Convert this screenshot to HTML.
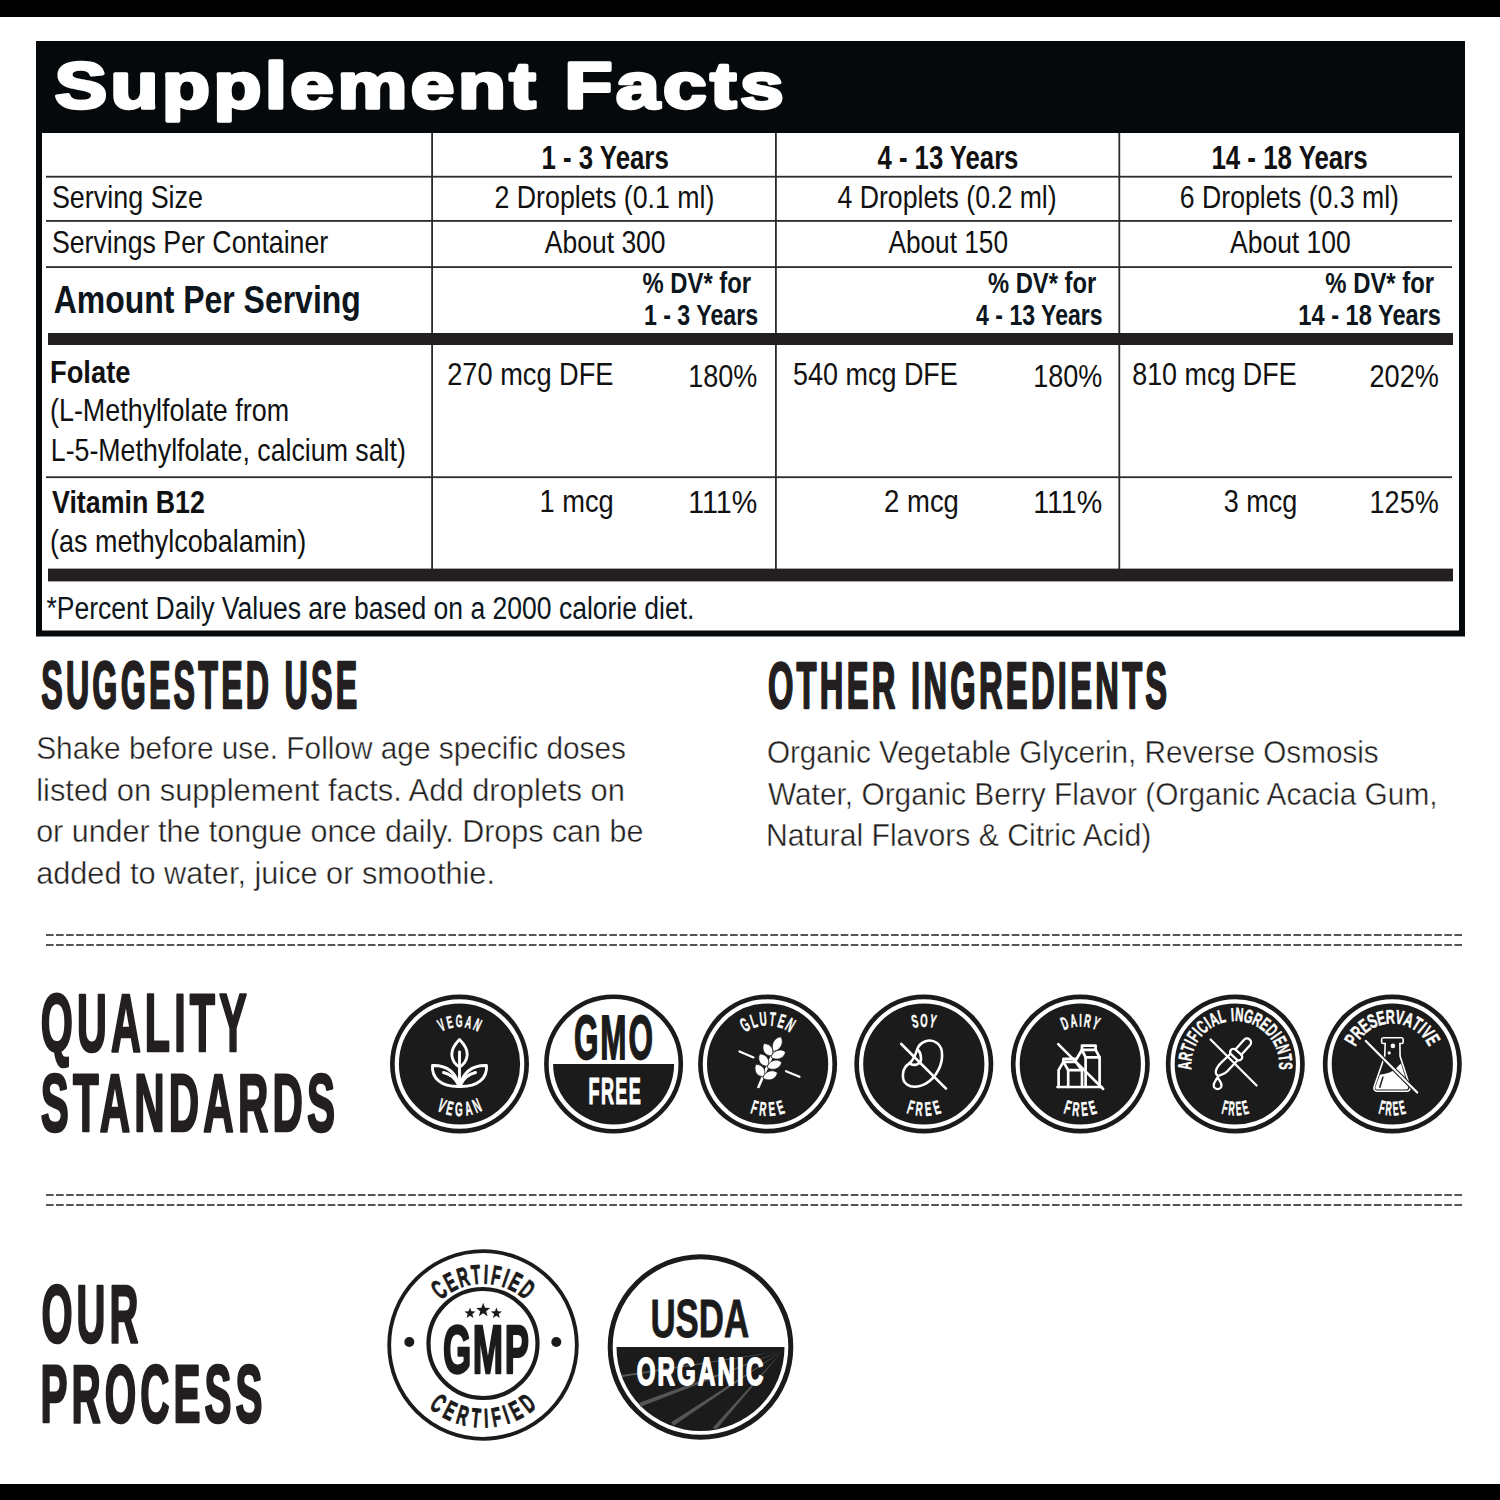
<!DOCTYPE html>
<html><head><meta charset="utf-8"><title>Supplement Facts</title>
<style>html,body{margin:0;padding:0;background:#fff;width:1500px;height:1500px;overflow:hidden}
svg{display:block;font-family:"Liberation Sans",sans-serif}</style></head>
<body><svg width="1500" height="1500" viewBox="0 0 1500 1500">
<rect x="0" y="0" width="1500" height="17" fill="#000"/>
<rect x="0" y="1484" width="1500" height="16" fill="#000"/>
<rect x="36" y="41" width="1429" height="595.5" fill="#05090b"/>
<rect x="42" y="133" width="1417" height="497.5" fill="#fff"/>
<rect x="46" y="175.80" width="1406" height="1.8" fill="#2b2b2b"/>
<rect x="46" y="220.00" width="1406" height="1.8" fill="#2b2b2b"/>
<rect x="46" y="266.20" width="1406" height="1.8" fill="#2b2b2b"/>
<rect x="46" y="476.30" width="1406" height="1.8" fill="#2b2b2b"/>
<rect x="431.20" y="133" width="1.8" height="436" fill="#2b2b2b"/>
<rect x="775.00" y="133" width="1.8" height="436" fill="#2b2b2b"/>
<rect x="1118.40" y="133" width="1.8" height="436" fill="#2b2b2b"/>
<rect x="48" y="333" width="1405" height="12" fill="#231f20"/>
<rect x="48" y="568.6" width="1405" height="12.8" fill="#231f20"/>
<line x1="46" y1="935" x2="1462" y2="935" stroke="#555" stroke-width="2" stroke-dasharray="7.6 2.46"/>
<line x1="46" y1="945" x2="1462" y2="945" stroke="#555" stroke-width="2" stroke-dasharray="7.6 2.46"/>
<line x1="46" y1="1195" x2="1462" y2="1195" stroke="#555" stroke-width="2" stroke-dasharray="7.6 2.46"/>
<line x1="46" y1="1205" x2="1462" y2="1205" stroke="#555" stroke-width="2" stroke-dasharray="7.6 2.46"/>
<text x="54.70" y="107.50" font-size="65.12" font-weight="bold" fill="#fff" stroke="#fff" stroke-width="3.4" stroke-linejoin="round" letter-spacing="2.930" textLength="732.44" lengthAdjust="spacingAndGlyphs">Supplement Facts</text>
<text x="541.50" y="169.00" font-size="32.85" font-weight="bold" fill="#111" textLength="127.28" lengthAdjust="spacingAndGlyphs">1 - 3 Years</text>
<text x="877.50" y="169.00" font-size="32.85" font-weight="bold" fill="#111" textLength="140.91" lengthAdjust="spacingAndGlyphs">4 - 13 Years</text>
<text x="1211.40" y="169.00" font-size="32.85" font-weight="bold" fill="#111" textLength="156.32" lengthAdjust="spacingAndGlyphs">14 - 18 Years</text>
<text x="51.90" y="208.00" font-size="31.11" font-weight="normal" fill="#111" textLength="151.14" lengthAdjust="spacingAndGlyphs">Serving Size</text>
<text x="494.50" y="208.00" font-size="31.11" font-weight="normal" fill="#111" textLength="219.94" lengthAdjust="spacingAndGlyphs">2 Droplets (0.1 ml)</text>
<text x="837.50" y="208.00" font-size="31.11" font-weight="normal" fill="#111" textLength="219.14" lengthAdjust="spacingAndGlyphs">4 Droplets (0.2 ml)</text>
<text x="1179.80" y="208.00" font-size="31.11" font-weight="normal" fill="#111" textLength="219.14" lengthAdjust="spacingAndGlyphs">6 Droplets (0.3 ml)</text>
<text x="51.90" y="253.30" font-size="30.96" font-weight="normal" fill="#111" textLength="276.37" lengthAdjust="spacingAndGlyphs">Servings Per Container</text>
<text x="544.80" y="253.30" font-size="30.96" font-weight="normal" fill="#111" textLength="120.79" lengthAdjust="spacingAndGlyphs">About 300</text>
<text x="888.40" y="253.30" font-size="30.96" font-weight="normal" fill="#111" textLength="119.60" lengthAdjust="spacingAndGlyphs">About 150</text>
<text x="1230.00" y="253.30" font-size="30.96" font-weight="normal" fill="#111" textLength="120.79" lengthAdjust="spacingAndGlyphs">About 100</text>
<text x="53.70" y="312.70" font-size="38.81" font-weight="bold" fill="#0c161c" textLength="307.11" lengthAdjust="spacingAndGlyphs">Amount Per Serving</text>
<text x="642.50" y="292.80" font-size="29.80" font-weight="bold" fill="#0c161c" textLength="108.53" lengthAdjust="spacingAndGlyphs">% DV* for</text>
<text x="643.90" y="324.70" font-size="30.09" font-weight="bold" fill="#0c161c" textLength="114.24" lengthAdjust="spacingAndGlyphs">1 - 3 Years</text>
<text x="988.00" y="292.80" font-size="29.80" font-weight="bold" fill="#0c161c" textLength="108.13" lengthAdjust="spacingAndGlyphs">% DV* for</text>
<text x="976.10" y="324.70" font-size="30.09" font-weight="bold" fill="#0c161c" textLength="126.51" lengthAdjust="spacingAndGlyphs">4 - 13 Years</text>
<text x="1325.30" y="292.80" font-size="29.80" font-weight="bold" fill="#0c161c" textLength="108.73" lengthAdjust="spacingAndGlyphs">% DV* for</text>
<text x="1298.30" y="324.70" font-size="30.09" font-weight="bold" fill="#0c161c" textLength="142.71" lengthAdjust="spacingAndGlyphs">14 - 18 Years</text>
<text x="50.00" y="382.70" font-size="31.11" font-weight="bold" fill="#111" textLength="80.42" lengthAdjust="spacingAndGlyphs">Folate</text>
<text x="50.00" y="421.30" font-size="30.96" font-weight="normal" fill="#111" textLength="239.08" lengthAdjust="spacingAndGlyphs">(L-Methylfolate from</text>
<text x="50.80" y="460.50" font-size="30.96" font-weight="normal" fill="#111" textLength="355.06" lengthAdjust="spacingAndGlyphs">L-5-Methylfolate, calcium salt)</text>
<text x="52.00" y="512.80" font-size="30.96" font-weight="bold" fill="#111" textLength="152.89" lengthAdjust="spacingAndGlyphs">Vitamin B12</text>
<text x="50.00" y="552.00" font-size="31.11" font-weight="normal" fill="#111" textLength="256.13" lengthAdjust="spacingAndGlyphs">(as methylcobalamin)</text>
<text x="447.20" y="385.00" font-size="32.27" font-weight="normal" fill="#111" textLength="166.31" lengthAdjust="spacingAndGlyphs">270 mcg DFE</text>
<text x="688.20" y="386.60" font-size="31.11" font-weight="normal" fill="#111" textLength="69.08" lengthAdjust="spacingAndGlyphs">180%</text>
<text x="793.10" y="385.00" font-size="32.27" font-weight="normal" fill="#111" textLength="164.70" lengthAdjust="spacingAndGlyphs">540 mcg DFE</text>
<text x="1033.20" y="386.60" font-size="31.11" font-weight="normal" fill="#111" textLength="69.08" lengthAdjust="spacingAndGlyphs">180%</text>
<text x="1132.20" y="385.00" font-size="32.27" font-weight="normal" fill="#111" textLength="164.50" lengthAdjust="spacingAndGlyphs">810 mcg DFE</text>
<text x="1369.50" y="386.60" font-size="31.11" font-weight="normal" fill="#111" textLength="69.38" lengthAdjust="spacingAndGlyphs">202%</text>
<text x="539.50" y="512.40" font-size="31.40" font-weight="normal" fill="#111" textLength="74.27" lengthAdjust="spacingAndGlyphs">1 mcg</text>
<text x="688.20" y="512.60" font-size="31.11" font-weight="normal" fill="#111" textLength="69.12" lengthAdjust="spacingAndGlyphs">111%</text>
<text x="884.10" y="512.40" font-size="31.40" font-weight="normal" fill="#111" textLength="74.80" lengthAdjust="spacingAndGlyphs">2 mcg</text>
<text x="1033.20" y="512.60" font-size="31.11" font-weight="normal" fill="#111" textLength="69.12" lengthAdjust="spacingAndGlyphs">111%</text>
<text x="1223.70" y="512.40" font-size="31.40" font-weight="normal" fill="#111" textLength="73.55" lengthAdjust="spacingAndGlyphs">3 mcg</text>
<text x="1369.60" y="512.60" font-size="31.11" font-weight="normal" fill="#111" textLength="69.08" lengthAdjust="spacingAndGlyphs">125%</text>
<text x="46.50" y="618.50" font-size="30.81" font-weight="normal" fill="#0c161c" textLength="648.00" lengthAdjust="spacingAndGlyphs">*Percent Daily Values are based on a 2000 calorie diet.</text>
<text x="41.20" y="707.65" font-size="65.84" font-weight="bold" fill="#231f20" stroke="#231f20" stroke-width="2.3" stroke-linejoin="round" letter-spacing="6.584" textLength="319.19" lengthAdjust="spacingAndGlyphs">SUGGESTED USE</text>
<text x="36.20" y="759.40" font-size="31.11" font-weight="normal" fill="#231f20" stroke="#fff" stroke-width="0.4" stroke-linejoin="round" textLength="589.75" lengthAdjust="spacingAndGlyphs">Shake before use. Follow age specific doses</text>
<text x="36.20" y="801.00" font-size="31.11" font-weight="normal" fill="#231f20" stroke="#fff" stroke-width="0.4" stroke-linejoin="round" textLength="588.71" lengthAdjust="spacingAndGlyphs">listed on supplement facts. Add droplets on</text>
<text x="36.20" y="842.20" font-size="31.11" font-weight="normal" fill="#231f20" stroke="#fff" stroke-width="0.4" stroke-linejoin="round" textLength="607.14" lengthAdjust="spacingAndGlyphs">or under the tongue once daily. Drops can be</text>
<text x="36.20" y="883.80" font-size="31.11" font-weight="normal" fill="#231f20" stroke="#fff" stroke-width="0.4" stroke-linejoin="round" textLength="458.72" lengthAdjust="spacingAndGlyphs">added to water, juice or smoothie.</text>
<text x="767.90" y="708.35" font-size="65.26" font-weight="bold" fill="#231f20" stroke="#231f20" stroke-width="2.3" stroke-linejoin="round" letter-spacing="6.526" textLength="402.56" lengthAdjust="spacingAndGlyphs">OTHER INGREDIENTS</text>
<text x="766.90" y="763.40" font-size="31.11" font-weight="normal" fill="#231f20" stroke="#fff" stroke-width="0.4" stroke-linejoin="round" textLength="611.78" lengthAdjust="spacingAndGlyphs">Organic Vegetable Glycerin, Reverse Osmosis</text>
<text x="767.90" y="804.70" font-size="31.11" font-weight="normal" fill="#231f20" stroke="#fff" stroke-width="0.4" stroke-linejoin="round" textLength="669.71" lengthAdjust="spacingAndGlyphs">Water, Organic Berry Flavor (Organic Acacia Gum,</text>
<text x="765.90" y="846.20" font-size="31.11" font-weight="normal" fill="#231f20" stroke="#fff" stroke-width="0.4" stroke-linejoin="round" textLength="385.48" lengthAdjust="spacingAndGlyphs">Natural Flavors &amp; Citric Acid)</text>
<text x="40.70" y="1051.15" font-size="81.25" font-weight="bold" fill="#231f20" stroke="#231f20" stroke-width="2.7" stroke-linejoin="round" letter-spacing="8.125" textLength="210.12" lengthAdjust="spacingAndGlyphs">QUALITY</text>
<text x="40.70" y="1131.15" font-size="81.25" font-weight="bold" fill="#231f20" stroke="#231f20" stroke-width="2.7" stroke-linejoin="round" letter-spacing="8.125" textLength="298.57" lengthAdjust="spacingAndGlyphs">STANDARDS</text>
<text x="41.40" y="1342.25" font-size="81.25" font-weight="bold" fill="#231f20" stroke="#231f20" stroke-width="2.7" stroke-linejoin="round" letter-spacing="8.125" textLength="100.90" lengthAdjust="spacingAndGlyphs">OUR</text>
<text x="40.40" y="1422.25" font-size="81.25" font-weight="bold" fill="#231f20" stroke="#231f20" stroke-width="2.7" stroke-linejoin="round" letter-spacing="8.125" textLength="226.13" lengthAdjust="spacingAndGlyphs">PROCESS</text>
<circle cx="459.5" cy="1064" r="69.5" fill="#1c1b1b"/>
<circle cx="459.5" cy="1064" r="62.7" fill="none" stroke="#fff" stroke-width="4.2"/>
<g fill="#fff" font-weight="bold"><text transform="translate(443.81,1030.49) rotate(-25.09) scale(0.5,1)" font-size="17.44" text-anchor="middle" stroke="#fff" stroke-width="0.45" stroke-linejoin="round">V</text><text transform="translate(451.09,1027.97) rotate(-13.14) scale(0.5,1)" font-size="17.44" text-anchor="middle" stroke="#fff" stroke-width="0.45" stroke-linejoin="round">E</text><text transform="translate(459.12,1027.00) rotate(-0.59) scale(0.5,1)" font-size="17.44" text-anchor="middle" stroke="#fff" stroke-width="0.45" stroke-linejoin="round">G</text><text transform="translate(467.35,1027.84) rotate(12.25) scale(0.5,1)" font-size="17.44" text-anchor="middle" stroke="#fff" stroke-width="0.45" stroke-linejoin="round">A</text><text transform="translate(475.02,1030.41) rotate(24.80) scale(0.5,1)" font-size="17.44" text-anchor="middle" stroke="#fff" stroke-width="0.45" stroke-linejoin="round">N</text></g>
<g fill="#fff" font-weight="bold"><text transform="translate(439.14,1111.85) rotate(23.06) scale(0.5,1)" font-size="19.62" text-anchor="middle" stroke="#fff" stroke-width="0.45" stroke-linejoin="round">V</text><text transform="translate(448.55,1114.83) rotate(12.16) scale(0.5,1)" font-size="19.62" text-anchor="middle" stroke="#fff" stroke-width="0.45" stroke-linejoin="round">E</text><text transform="translate(458.93,1116.00) rotate(0.63) scale(0.5,1)" font-size="19.62" text-anchor="middle" stroke="#fff" stroke-width="0.45" stroke-linejoin="round">G</text><text transform="translate(469.61,1115.01) rotate(-11.21) scale(0.5,1)" font-size="19.62" text-anchor="middle" stroke="#fff" stroke-width="0.45" stroke-linejoin="round">A</text><text transform="translate(479.60,1111.96) rotate(-22.74) scale(0.5,1)" font-size="19.62" text-anchor="middle" stroke="#fff" stroke-width="0.45" stroke-linejoin="round">N</text></g>
<g fill="none" stroke="#fff" stroke-linecap="round" stroke-linejoin="round" stroke-width="2.9"><path d="M459.5,1039.5 C453,1046 451.5,1051 451.8,1055 C452.3,1061 456,1065 459.5,1067 C463,1065 466.7,1061 467.2,1055 C467.5,1051 466,1046 459.5,1039.5 Z"/><path d="M459.5,1052 L459.5,1086"/><path d="M459.5,1086.5 C456,1073 448,1065 432.5,1065.5 C431.5,1078 441,1087 459.5,1086.5 Z"/><path d="M459.5,1086.5 C463,1073 471,1065 486.5,1065.5 C487.5,1078 478,1087 459.5,1086.5 Z"/><path d="M443.5,1072.5 C450,1074 455,1078 458,1084"/><path d="M475.5,1072.5 C469,1074 464,1078 461,1084"/></g>
<circle cx="613.6" cy="1064" r="67.2" fill="#fff" stroke="#1c1b1b" stroke-width="4.6"/>
<path d="M553.1,1064 A60.5,60.5 0 0 0 674.1,1064 Z" fill="#1c1b1b"/>
<text x="0" y="0" transform="translate(573.90,1059.10) scale(0.4956,1)" font-size="63.52" font-weight="bold" fill="#1c1b1b" stroke="#1c1b1b" stroke-width="1.8" stroke-linejoin="round" letter-spacing="4.00">GMO</text>
<text x="0" y="0" transform="translate(588.40,1104.40) scale(0.4819,1)" font-size="37.50" font-weight="bold" fill="#fff" stroke="#fff" stroke-width="1.2" stroke-linejoin="round" letter-spacing="3.00">FREE</text>
<circle cx="767.6" cy="1064" r="69.5" fill="#1c1b1b"/>
<circle cx="767.6" cy="1064" r="62.7" fill="none" stroke="#fff" stroke-width="4.2"/>
<g fill="#fff" font-weight="bold"><text transform="translate(748.28,1030.70) rotate(-30.12) scale(0.5,1)" font-size="19.62" text-anchor="middle" stroke="#fff" stroke-width="0.45" stroke-linejoin="round">G</text><text transform="translate(755.86,1027.33) rotate(-17.75) scale(0.5,1)" font-size="19.62" text-anchor="middle" stroke="#fff" stroke-width="0.45" stroke-linejoin="round">L</text><text transform="translate(763.77,1025.69) rotate(-5.71) scale(0.5,1)" font-size="19.62" text-anchor="middle" stroke="#fff" stroke-width="0.45" stroke-linejoin="round">U</text><text transform="translate(771.85,1025.74) rotate(6.34) scale(0.5,1)" font-size="19.62" text-anchor="middle" stroke="#fff" stroke-width="0.45" stroke-linejoin="round">T</text><text transform="translate(779.54,1027.40) rotate(18.07) scale(0.5,1)" font-size="19.62" text-anchor="middle" stroke="#fff" stroke-width="0.45" stroke-linejoin="round">E</text><text transform="translate(787.10,1030.81) rotate(30.44) scale(0.5,1)" font-size="19.62" text-anchor="middle" stroke="#fff" stroke-width="0.45" stroke-linejoin="round">N</text></g>
<g fill="#fff" font-weight="bold"><text transform="translate(752.60,1113.79) rotate(16.76) scale(0.5,1)" font-size="19.62" text-anchor="middle" stroke="#fff" stroke-width="0.45" stroke-linejoin="round">F</text><text transform="translate(762.34,1115.73) rotate(5.80) scale(0.5,1)" font-size="19.62" text-anchor="middle" stroke="#fff" stroke-width="0.45" stroke-linejoin="round">R</text><text transform="translate(772.56,1115.76) rotate(-5.48) scale(0.5,1)" font-size="19.62" text-anchor="middle" stroke="#fff" stroke-width="0.45" stroke-linejoin="round">E</text><text transform="translate(782.32,1113.87) rotate(-16.44) scale(0.5,1)" font-size="19.62" text-anchor="middle" stroke="#fff" stroke-width="0.45" stroke-linejoin="round">E</text></g>
<g stroke="#fff" stroke-width="2.2" stroke-linecap="round"><path d="M739.5,1051.5 L753.5,1057.4"/><path d="M786,1071.2 L799.5,1076.8"/></g>
<path d="M758.5,1087 L774.5,1050" stroke="#fff" stroke-width="2.6" stroke-linecap="round"/>
<path d="M-8.25,0 C-4.125,-5.704 4.5375000000000005,-6.072 8.25,0 C4.5375000000000005,6.072 -4.125,5.704 -8.25,0 Z" transform="translate(777.2,1044.2) rotate(-63)" fill="#fff" stroke="#1c1b1b" stroke-width="0.7"/>
<path d="M-7.25,0 C-3.625,-5.704 3.9875000000000003,-6.072 7.25,0 C3.9875000000000003,6.072 -3.625,5.704 -7.25,0 Z" transform="translate(767.8,1049.6) rotate(57)" fill="#fff" stroke="#1c1b1b" stroke-width="0.7"/>
<path d="M-7.75,0 C-3.875,-5.58 4.2625,-5.94 7.75,0 C4.2625,5.94 -3.875,5.58 -7.75,0 Z" transform="translate(778.3,1054.6) rotate(-20)" fill="#fff" stroke="#1c1b1b" stroke-width="0.7"/>
<path d="M-7.25,0 C-3.625,-5.704 3.9875000000000003,-6.072 7.25,0 C3.9875000000000003,6.072 -3.625,5.704 -7.25,0 Z" transform="translate(763.6,1060.0) rotate(57)" fill="#fff" stroke="#1c1b1b" stroke-width="0.7"/>
<path d="M-7.75,0 C-3.875,-5.58 4.2625,-5.94 7.75,0 C4.2625,5.94 -3.875,5.58 -7.75,0 Z" transform="translate(774.4,1064.8) rotate(-20)" fill="#fff" stroke="#1c1b1b" stroke-width="0.7"/>
<path d="M-7.25,0 C-3.625,-5.704 3.9875000000000003,-6.072 7.25,0 C3.9875000000000003,6.072 -3.625,5.704 -7.25,0 Z" transform="translate(759.8,1070.4) rotate(57)" fill="#fff" stroke="#1c1b1b" stroke-width="0.7"/>
<path d="M-7.75,0 C-3.875,-5.58 4.2625,-5.94 7.75,0 C4.2625,5.94 -3.875,5.58 -7.75,0 Z" transform="translate(770.2,1075.4) rotate(-20)" fill="#fff" stroke="#1c1b1b" stroke-width="0.7"/>
<circle cx="923.8" cy="1064" r="69.5" fill="#1c1b1b"/>
<circle cx="923.8" cy="1064" r="62.7" fill="none" stroke="#fff" stroke-width="4.2"/>
<g fill="#fff" font-weight="bold"><text transform="translate(916.09,1027.30) rotate(-11.87) scale(0.52,1)" font-size="18.17" text-anchor="middle" stroke="#fff" stroke-width="0.45" stroke-linejoin="round">S</text><text transform="translate(923.80,1026.50) rotate(0.00) scale(0.52,1)" font-size="18.17" text-anchor="middle" stroke="#fff" stroke-width="0.45" stroke-linejoin="round">O</text><text transform="translate(931.51,1027.30) rotate(11.87) scale(0.52,1)" font-size="18.17" text-anchor="middle" stroke="#fff" stroke-width="0.45" stroke-linejoin="round">Y</text></g>
<g fill="#fff" font-weight="bold"><text transform="translate(908.80,1113.79) rotate(16.76) scale(0.5,1)" font-size="19.62" text-anchor="middle" stroke="#fff" stroke-width="0.45" stroke-linejoin="round">F</text><text transform="translate(918.54,1115.73) rotate(5.80) scale(0.5,1)" font-size="19.62" text-anchor="middle" stroke="#fff" stroke-width="0.45" stroke-linejoin="round">R</text><text transform="translate(928.76,1115.76) rotate(-5.48) scale(0.5,1)" font-size="19.62" text-anchor="middle" stroke="#fff" stroke-width="0.45" stroke-linejoin="round">E</text><text transform="translate(938.52,1113.87) rotate(-16.44) scale(0.5,1)" font-size="19.62" text-anchor="middle" stroke="#fff" stroke-width="0.45" stroke-linejoin="round">E</text></g>
<g fill="none" stroke="#fff" stroke-linecap="round" stroke-linejoin="round" stroke-width="2.6"><path d="M909.6,1063.5 C902,1067 900.5,1080 907,1084.5 C914,1089.5 928,1086 936,1074 C944,1062 944,1048 937,1043 C930,1038 920,1041 917,1050 C915.5,1055 914,1059 909.6,1063.5 Z"/><path d="M909.6,1063 C913,1066.5 921.5,1065 921,1058 C920.8,1054 920,1052 918.5,1050.5"/><path d="M901.3,1044 L946,1088.6"/></g>
<circle cx="1080.3" cy="1064" r="69.5" fill="#1c1b1b"/>
<circle cx="1080.3" cy="1064" r="62.7" fill="none" stroke="#fff" stroke-width="4.2"/>
<g fill="#fff" font-weight="bold"><text transform="translate(1066.93,1028.96) rotate(-20.88) scale(0.5,1)" font-size="18.17" text-anchor="middle" stroke="#fff" stroke-width="0.45" stroke-linejoin="round">D</text><text transform="translate(1074.39,1026.97) rotate(-9.07) scale(0.5,1)" font-size="18.17" text-anchor="middle" stroke="#fff" stroke-width="0.45" stroke-linejoin="round">A</text><text transform="translate(1080.50,1026.50) rotate(0.30) scale(0.5,1)" font-size="18.17" text-anchor="middle" stroke="#fff" stroke-width="0.45" stroke-linejoin="round">I</text><text transform="translate(1086.60,1027.03) rotate(9.68) scale(0.5,1)" font-size="18.17" text-anchor="middle" stroke="#fff" stroke-width="0.45" stroke-linejoin="round">R</text><text transform="translate(1093.85,1029.03) rotate(21.18) scale(0.5,1)" font-size="18.17" text-anchor="middle" stroke="#fff" stroke-width="0.45" stroke-linejoin="round">Y</text></g>
<g fill="#fff" font-weight="bold"><text transform="translate(1065.81,1113.94) rotate(16.18) scale(0.5,1)" font-size="19.62" text-anchor="middle" stroke="#fff" stroke-width="0.45" stroke-linejoin="round">F</text><text transform="translate(1075.22,1115.75) rotate(5.61) scale(0.5,1)" font-size="19.62" text-anchor="middle" stroke="#fff" stroke-width="0.45" stroke-linejoin="round">R</text><text transform="translate(1085.09,1115.78) rotate(-5.28) scale(0.5,1)" font-size="19.62" text-anchor="middle" stroke="#fff" stroke-width="0.45" stroke-linejoin="round">E</text><text transform="translate(1094.51,1114.02) rotate(-15.85) scale(0.5,1)" font-size="19.62" text-anchor="middle" stroke="#fff" stroke-width="0.45" stroke-linejoin="round">E</text></g>
<g fill="none" stroke="#fff" stroke-linecap="round" stroke-linejoin="round" stroke-width="2.7" stroke-linecap="butt" stroke-linejoin="miter"><path d="M1058.6,1087 L1058.6,1070.2 L1063.4,1061.8 L1075.6,1061.8 L1082,1070.2 L1082,1087"/><path d="M1063.4,1061.8 L1063.4,1058.8 L1075.6,1058.8 L1075.6,1061.8"/><path d="M1063.4,1061.8 L1068.2,1070.2 L1082,1070.2"/><path d="M1068.2,1070.2 L1068.2,1087"/><path d="M1076.4,1059.2 L1082,1049.8 L1095.6,1049.8 L1099.6,1057.4 L1099.6,1087"/><path d="M1082,1049.8 L1082,1045.6 L1095.6,1045.6 L1095.6,1049.8"/><path d="M1082,1049.8 L1085.6,1057.4 L1099.6,1057.4"/><path d="M1085.6,1057.4 L1085.6,1087"/><path d="M1057.5,1087 L1101.6,1087"/></g>
<path d="M1058.2,1044.2 L1103.2,1089" stroke="#fff" stroke-width="2.5" stroke-linecap="round"/>
<circle cx="1235.3" cy="1064" r="69.5" fill="#1c1b1b"/>
<circle cx="1235.3" cy="1064" r="62.7" fill="none" stroke="#fff" stroke-width="4.2"/>
<g fill="#fff" font-weight="bold"><text transform="translate(1191.30,1065.56) rotate(-90.73) scale(0.6,1)" font-size="18.90" text-anchor="middle" stroke="#fff" stroke-width="0.45" stroke-linejoin="round">A</text><text transform="translate(1191.93,1057.56) rotate(-80.27) scale(0.6,1)" font-size="18.90" text-anchor="middle" stroke="#fff" stroke-width="0.45" stroke-linejoin="round">R</text><text transform="translate(1193.83,1050.29) rotate(-70.47) scale(0.6,1)" font-size="18.90" text-anchor="middle" stroke="#fff" stroke-width="0.45" stroke-linejoin="round">T</text><text transform="translate(1195.99,1045.23) rotate(-63.31) scale(0.6,1)" font-size="18.90" text-anchor="middle" stroke="#fff" stroke-width="0.45" stroke-linejoin="round">I</text><text transform="translate(1198.76,1040.48) rotate(-56.14) scale(0.6,1)" font-size="18.90" text-anchor="middle" stroke="#fff" stroke-width="0.45" stroke-linejoin="round">F</text><text transform="translate(1202.11,1036.12) rotate(-48.97) scale(0.6,1)" font-size="18.90" text-anchor="middle" stroke="#fff" stroke-width="0.45" stroke-linejoin="round">I</text><text transform="translate(1206.35,1031.87) rotate(-41.14) scale(0.6,1)" font-size="18.90" text-anchor="middle" stroke="#fff" stroke-width="0.45" stroke-linejoin="round">C</text><text transform="translate(1211.13,1028.23) rotate(-33.32) scale(0.6,1)" font-size="18.90" text-anchor="middle" stroke="#fff" stroke-width="0.45" stroke-linejoin="round">I</text><text transform="translate(1216.36,1025.28) rotate(-25.49) scale(0.6,1)" font-size="18.90" text-anchor="middle" stroke="#fff" stroke-width="0.45" stroke-linejoin="round">A</text><text transform="translate(1223.40,1022.64) rotate(-15.69) scale(0.6,1)" font-size="18.90" text-anchor="middle" stroke="#fff" stroke-width="0.45" stroke-linejoin="round">L</text><text transform="translate(1232.75,1021.07) rotate(-3.33) scale(0.6,1)" font-size="18.90" text-anchor="middle" stroke="#fff" stroke-width="0.45" stroke-linejoin="round">I</text><text transform="translate(1238.75,1021.14) rotate(4.50) scale(0.6,1)" font-size="18.90" text-anchor="middle" stroke="#fff" stroke-width="0.45" stroke-linejoin="round">N</text><text transform="translate(1246.90,1022.56) rotate(15.28) scale(0.6,1)" font-size="18.90" text-anchor="middle" stroke="#fff" stroke-width="0.45" stroke-linejoin="round">G</text><text transform="translate(1254.64,1025.48) rotate(26.07) scale(0.6,1)" font-size="18.90" text-anchor="middle" stroke="#fff" stroke-width="0.45" stroke-linejoin="round">R</text><text transform="translate(1261.29,1029.49) rotate(36.20) scale(0.6,1)" font-size="18.90" text-anchor="middle" stroke="#fff" stroke-width="0.45" stroke-linejoin="round">E</text><text transform="translate(1267.13,1034.62) rotate(46.33) scale(0.6,1)" font-size="18.90" text-anchor="middle" stroke="#fff" stroke-width="0.45" stroke-linejoin="round">D</text><text transform="translate(1270.97,1039.23) rotate(54.16) scale(0.6,1)" font-size="18.90" text-anchor="middle" stroke="#fff" stroke-width="0.45" stroke-linejoin="round">I</text><text transform="translate(1274.02,1044.11) rotate(61.66) scale(0.6,1)" font-size="18.90" text-anchor="middle" stroke="#fff" stroke-width="0.45" stroke-linejoin="round">E</text><text transform="translate(1277.10,1051.25) rotate(71.79) scale(0.6,1)" font-size="18.90" text-anchor="middle" stroke="#fff" stroke-width="0.45" stroke-linejoin="round">N</text><text transform="translate(1278.83,1058.56) rotate(81.58) scale(0.6,1)" font-size="18.90" text-anchor="middle" stroke="#fff" stroke-width="0.45" stroke-linejoin="round">T</text><text transform="translate(1279.29,1065.81) rotate(91.05) scale(0.6,1)" font-size="18.90" text-anchor="middle" stroke="#fff" stroke-width="0.45" stroke-linejoin="round">S</text></g>
<g fill="#fff" font-weight="bold"><text transform="translate(1223.50,1114.13) rotate(13.25) scale(0.44,1)" font-size="19.62" text-anchor="middle" stroke="#fff" stroke-width="0.45" stroke-linejoin="round">F</text><text transform="translate(1231.16,1115.33) rotate(4.61) scale(0.44,1)" font-size="19.62" text-anchor="middle" stroke="#fff" stroke-width="0.45" stroke-linejoin="round">R</text><text transform="translate(1239.18,1115.35) rotate(-4.32) scale(0.44,1)" font-size="19.62" text-anchor="middle" stroke="#fff" stroke-width="0.45" stroke-linejoin="round">E</text><text transform="translate(1246.85,1114.19) rotate(-12.96) scale(0.44,1)" font-size="19.62" text-anchor="middle" stroke="#fff" stroke-width="0.45" stroke-linejoin="round">E</text></g>
<g transform="translate(1217.6,1075.2) rotate(-48)" fill="none" stroke="#fff" stroke-linecap="round" stroke-linejoin="round" stroke-width="2.3"><path d="M31,-4 L44,-4 A4,4 0 0 1 44,4 L31,4"/><rect x="24.5" y="-7" width="6.5" height="14" rx="3.2"/><path d="M24.5,-4.8 C18,-4.8 12,-6.2 7,-5.6 C3.5,-5.2 1,-4 0,-2 C-0.6,0 0,1.2 1.2,1.7 C3.5,2.8 6,4.6 9.5,4.6 C14,4.6 19,4.8 24.5,4.8"/></g>
<path d="M1217.6,1077.2 C1216.2,1080 1213.7,1082.2 1213.7,1085.3 A3.9,3.9 0 0 0 1221.5,1085.3 C1221.5,1082.2 1219,1080 1217.6,1077.2 Z" fill="none" stroke="#fff" stroke-linecap="round" stroke-linejoin="round" stroke-width="2.3"/>
<path d="M1210.6,1039.5 L1256.6,1085.5" stroke="#fff" stroke-width="2.2" stroke-linecap="round"/>
<circle cx="1392.3" cy="1064" r="69.5" fill="#1c1b1b"/>
<circle cx="1392.3" cy="1064" r="62.7" fill="none" stroke="#fff" stroke-width="4.2"/>
<g fill="#fff" font-weight="bold"><text transform="translate(1357.47,1043.34) rotate(-59.33) scale(0.64,1)" font-size="19.62" text-anchor="middle" stroke="#fff" stroke-width="0.45" stroke-linejoin="round">P</text><text transform="translate(1362.30,1036.79) rotate(-47.80) scale(0.64,1)" font-size="19.62" text-anchor="middle" stroke="#fff" stroke-width="0.45" stroke-linejoin="round">R</text><text transform="translate(1368.34,1031.35) rotate(-36.27) scale(0.64,1)" font-size="19.62" text-anchor="middle" stroke="#fff" stroke-width="0.45" stroke-linejoin="round">E</text><text transform="translate(1375.10,1027.33) rotate(-25.12) scale(0.64,1)" font-size="19.62" text-anchor="middle" stroke="#fff" stroke-width="0.45" stroke-linejoin="round">S</text><text transform="translate(1382.51,1024.70) rotate(-13.98) scale(0.64,1)" font-size="19.62" text-anchor="middle" stroke="#fff" stroke-width="0.45" stroke-linejoin="round">E</text><text transform="translate(1390.57,1023.54) rotate(-2.45) scale(0.64,1)" font-size="19.62" text-anchor="middle" stroke="#fff" stroke-width="0.45" stroke-linejoin="round">R</text><text transform="translate(1398.69,1024.01) rotate(9.08) scale(0.64,1)" font-size="19.62" text-anchor="middle" stroke="#fff" stroke-width="0.45" stroke-linejoin="round">V</text><text transform="translate(1406.55,1026.09) rotate(20.61) scale(0.64,1)" font-size="19.62" text-anchor="middle" stroke="#fff" stroke-width="0.45" stroke-linejoin="round">A</text><text transform="translate(1413.61,1029.56) rotate(31.74) scale(0.64,1)" font-size="19.62" text-anchor="middle" stroke="#fff" stroke-width="0.45" stroke-linejoin="round">T</text><text transform="translate(1418.21,1032.87) rotate(39.77) scale(0.64,1)" font-size="19.62" text-anchor="middle" stroke="#fff" stroke-width="0.45" stroke-linejoin="round">I</text><text transform="translate(1422.48,1037.00) rotate(48.18) scale(0.64,1)" font-size="19.62" text-anchor="middle" stroke="#fff" stroke-width="0.45" stroke-linejoin="round">V</text><text transform="translate(1427.13,1043.34) rotate(59.33) scale(0.64,1)" font-size="19.62" text-anchor="middle" stroke="#fff" stroke-width="0.45" stroke-linejoin="round">E</text></g>
<g fill="#fff" font-weight="bold"><text transform="translate(1380.50,1114.13) rotate(13.25) scale(0.44,1)" font-size="19.62" text-anchor="middle" stroke="#fff" stroke-width="0.45" stroke-linejoin="round">F</text><text transform="translate(1388.16,1115.33) rotate(4.61) scale(0.44,1)" font-size="19.62" text-anchor="middle" stroke="#fff" stroke-width="0.45" stroke-linejoin="round">R</text><text transform="translate(1396.18,1115.35) rotate(-4.32) scale(0.44,1)" font-size="19.62" text-anchor="middle" stroke="#fff" stroke-width="0.45" stroke-linejoin="round">E</text><text transform="translate(1403.85,1114.19) rotate(-12.96) scale(0.44,1)" font-size="19.62" text-anchor="middle" stroke="#fff" stroke-width="0.45" stroke-linejoin="round">E</text></g>
<path d="M1379.9,1074.8 C1386,1073.5 1390,1073 1394,1070 C1397,1067.5 1399,1065 1401,1063.5 L1408.2,1087 C1408.6,1088.5 1407.5,1089.5 1406,1089.5 L1377.2,1089.5 C1375.8,1089.5 1375,1088.5 1375.4,1087 Z" fill="#fff"/>
<g fill="none" stroke="#fff" stroke-linecap="round" stroke-linejoin="round" stroke-width="1.6"><path d="M1385.2,1043.5 L1383.2,1043.5 C1382,1043.5 1381.6,1042.8 1381.6,1041.8 L1381.6,1039.5 C1381.6,1038.4 1382.2,1037.8 1383.2,1037.8 L1401.6,1037.8 C1402.6,1037.8 1403.2,1038.4 1403.2,1039.5 L1403.2,1041.8 C1403.2,1042.8 1402.6,1043.5 1401.6,1043.5 L1399.9,1043.5"/><path d="M1385.2,1043.5 L1384.7,1056.2 L1374.2,1086.5 C1373.3,1089.5 1375,1091.2 1377.5,1091.2 L1406.5,1091.2 C1409,1091.2 1410.8,1089.5 1409.9,1086.5 L1400.1,1056.2 L1399.9,1043.5"/></g>
<path d="M1382.9,1077.2 L1379.8,1087.2" stroke="#1c1b1b" stroke-width="1.5" stroke-linecap="round"/>
<circle cx="1392.9" cy="1045.9" r="2.3" fill="#fff"/><circle cx="1389.2" cy="1052.9" r="1.6" fill="#fff"/>
<path d="M1365.8,1041 L1417.2,1092.5" stroke="#1c1b1b" stroke-width="4.4" stroke-linecap="round"/>
<path d="M1365.8,1041 L1417.2,1092.5" stroke="#fff" stroke-width="2.2" stroke-linecap="round"/>
<circle cx="483" cy="1345" r="93.8" fill="none" stroke="#1c1b1b" stroke-width="3.8"/>
<circle cx="483" cy="1343.5" r="54.5" fill="none" stroke="#1c1b1b" stroke-width="4.2"/>
<circle cx="409.3" cy="1342" r="5" fill="#1c1b1b"/><circle cx="556.3" cy="1342" r="5" fill="#1c1b1b"/>
<text x="0" y="0" transform="translate(442.90,1372.70) scale(0.5279,1)" font-size="68.90" font-weight="bold" fill="#1c1b1b" stroke="#1c1b1b" stroke-width="2.6" stroke-linejoin="round" letter-spacing="3.00">GMP</text>
<polygon points="470.00,1307.40 471.43,1311.23 475.52,1311.41 472.32,1313.95 473.41,1317.89 470.00,1315.64 466.59,1317.89 467.68,1313.95 464.48,1311.41 468.57,1311.23" fill="#1c1b1b"/><polygon points="483.20,1302.80 485.03,1307.69 490.24,1307.91 486.16,1311.16 487.55,1316.19 483.20,1313.31 478.85,1316.19 480.24,1311.16 476.16,1307.91 481.37,1307.69" fill="#1c1b1b"/><polygon points="496.40,1307.40 497.83,1311.23 501.92,1311.41 498.72,1313.95 499.81,1317.89 496.40,1315.64 492.99,1317.89 494.08,1313.95 490.88,1311.41 494.97,1311.23" fill="#1c1b1b"/>
<g fill="#1c1b1b" font-weight="bold"><text transform="translate(444.80,1296.80) rotate(-38.40) scale(0.56,1)" font-size="26.89" text-anchor="middle" stroke="#1c1b1b" stroke-width="1.0" stroke-linejoin="round">C</text><text transform="translate(454.70,1290.40) rotate(-27.40) scale(0.56,1)" font-size="26.89" text-anchor="middle" stroke="#1c1b1b" stroke-width="1.0" stroke-linejoin="round">E</text><text transform="translate(465.64,1286.00) rotate(-16.39) scale(0.56,1)" font-size="26.89" text-anchor="middle" stroke="#1c1b1b" stroke-width="1.0" stroke-linejoin="round">R</text><text transform="translate(476.89,1283.80) rotate(-5.70) scale(0.56,1)" font-size="26.89" text-anchor="middle" stroke="#1c1b1b" stroke-width="1.0" stroke-linejoin="round">T</text><text transform="translate(485.67,1283.56) rotate(2.49) scale(0.56,1)" font-size="26.89" text-anchor="middle" stroke="#1c1b1b" stroke-width="1.0" stroke-linejoin="round">I</text><text transform="translate(494.41,1284.57) rotate(10.69) scale(0.56,1)" font-size="26.89" text-anchor="middle" stroke="#1c1b1b" stroke-width="1.0" stroke-linejoin="round">F</text><text transform="translate(502.91,1286.81) rotate(18.89) scale(0.56,1)" font-size="26.89" text-anchor="middle" stroke="#1c1b1b" stroke-width="1.0" stroke-linejoin="round">I</text><text transform="translate(511.30,1290.40) rotate(27.40) scale(0.56,1)" font-size="26.89" text-anchor="middle" stroke="#1c1b1b" stroke-width="1.0" stroke-linejoin="round">E</text><text transform="translate(521.20,1296.80) rotate(38.40) scale(0.56,1)" font-size="26.89" text-anchor="middle" stroke="#1c1b1b" stroke-width="1.0" stroke-linejoin="round">D</text></g>
<g fill="#1c1b1b" font-weight="bold"><text transform="translate(432.85,1410.51) rotate(37.43) scale(0.56,1)" font-size="26.89" text-anchor="middle" stroke="#1c1b1b" stroke-width="1.0" stroke-linejoin="round">C</text><text transform="translate(445.91,1418.69) rotate(26.72) scale(0.56,1)" font-size="26.89" text-anchor="middle" stroke="#1c1b1b" stroke-width="1.0" stroke-linejoin="round">E</text><text transform="translate(460.25,1424.30) rotate(16.00) scale(0.56,1)" font-size="26.89" text-anchor="middle" stroke="#1c1b1b" stroke-width="1.0" stroke-linejoin="round">R</text><text transform="translate(474.96,1427.11) rotate(5.59) scale(0.56,1)" font-size="26.89" text-anchor="middle" stroke="#1c1b1b" stroke-width="1.0" stroke-linejoin="round">T</text><text transform="translate(486.47,1427.43) rotate(-2.41) scale(0.56,1)" font-size="26.89" text-anchor="middle" stroke="#1c1b1b" stroke-width="1.0" stroke-linejoin="round">I</text><text transform="translate(497.91,1426.14) rotate(-10.41) scale(0.56,1)" font-size="26.89" text-anchor="middle" stroke="#1c1b1b" stroke-width="1.0" stroke-linejoin="round">F</text><text transform="translate(509.06,1423.28) rotate(-18.41) scale(0.56,1)" font-size="26.89" text-anchor="middle" stroke="#1c1b1b" stroke-width="1.0" stroke-linejoin="round">I</text><text transform="translate(520.09,1418.69) rotate(-26.72) scale(0.56,1)" font-size="26.89" text-anchor="middle" stroke="#1c1b1b" stroke-width="1.0" stroke-linejoin="round">E</text><text transform="translate(533.15,1410.51) rotate(-37.43) scale(0.56,1)" font-size="26.89" text-anchor="middle" stroke="#1c1b1b" stroke-width="1.0" stroke-linejoin="round">D</text></g>
<circle cx="700.5" cy="1347" r="90.3" fill="#fff" stroke="#1c1b1b" stroke-width="5"/>
<path d="M616.5,1347 A84,84 0 0 0 784.5,1347 Z" fill="#1c1b1b"/>
<polygon points="622.17,1377.09 621.83,1374.91 782.80,1350.80" fill="#555"/>
<polygon points="640.74,1406.76 639.26,1402.84 782.80,1350.80" fill="#555"/>
<polygon points="673.56,1425.75 671.24,1422.25 782.80,1350.80" fill="#555"/>
<polygon points="715.83,1430.05 712.97,1427.55 782.80,1350.80" fill="#555"/>
<path d="M700.5,1347 m-84,0 a84,84 0 0 0 168,0" fill="none" stroke="#fff" stroke-width="0"/>
<text x="0" y="0" transform="translate(650.40,1337.10) scale(0.6435,1)" font-size="54.22" font-weight="bold" fill="#1c1b1b" stroke="#1c1b1b" stroke-width="0.8" stroke-linejoin="round">USDA</text>
<text x="0" y="0" transform="translate(636.70,1385.30) scale(0.6264,1)" font-size="38.37" font-weight="bold" fill="#fff" stroke="#fff" stroke-width="1.8" stroke-linejoin="round" letter-spacing="3.50">ORGANIC</text>
</svg></body></html>
